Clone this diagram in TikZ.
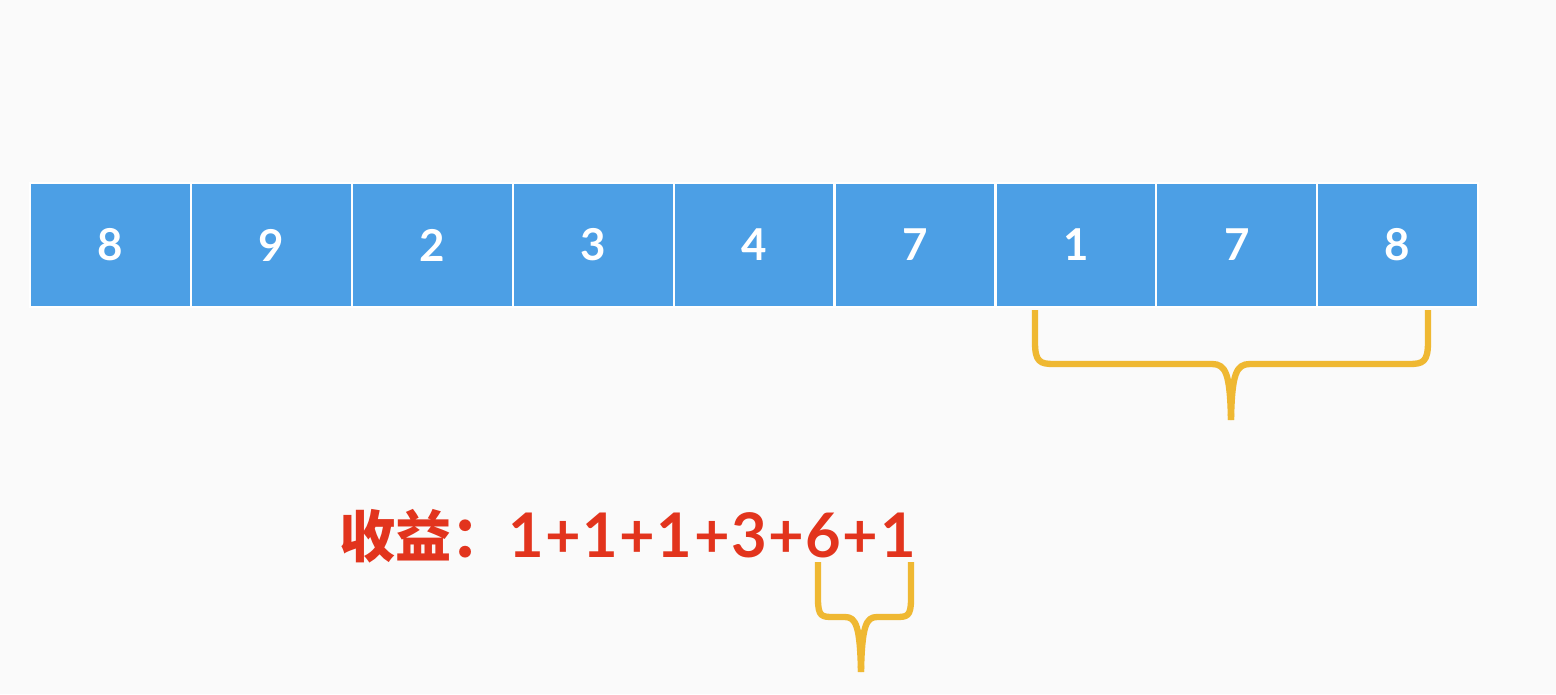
\documentclass[tikz,border=0pt]{standalone}
\usepackage{fontspec}
\setmainfont{Lato}
\newfontfamily\cjk{Noto Sans CJK SC}
\newfontfamily\gainfont[LetterSpace=2.5]{Lato}
\usetikzlibrary{positioning}
\definecolor{cellblue}{HTML}{4C9FE5}
\definecolor{bracegold}{HTML}{EFB832}
\definecolor{gainred}{HTML}{E2341D}
\definecolor{paper}{HTML}{FAFAFA}
\tikzset{cell/.style={fill=cellblue, draw=white, line width=1.2pt, text=white,
    minimum width=3.218cm, minimum height=2.48cm, inner sep=0pt, font=\bfseries\fontsize{25}{30}\selectfont}}
\tikzset{bracket/.style={draw=bracegold, line width=3.6pt, line join=round}}

\begin{document}
\begin{tikzpicture}[x=0.02cm, y=-0.02cm]
    % Background
    \fill[paper] (0,0) rectangle (1556,694);
    \useasboundingbox (0,0) rectangle (1556,694);

    % Cells
    \foreach \v [count=\i] in {8,9,2,3,4,7,1,7,8}
        \node[cell, anchor=north west] (c\i) at ({29+160.9*(\i-1)},182) {\v};

    % Gain
    \node[anchor=base west, inner sep=0pt, text=gainred] (gain) at (339,557)
        {{\cjk\bfseries\fontsize{32}{36}\selectfont 收益：}{\gainfont\bfseries\fontsize{35}{40}\selectfont 1+1+1+3+6+1}};

    % Brace under the last three cells
    \coordinate (bl) at (1035,310);
    \coordinate (br) at (1428,310);
    \coordinate (bt) at (1231,420);
    \draw[bracket] (bl) -- ++(0,32) .. controls ++(0,20) and (1040,364) .. (1054,364)
        -- (1212,364) .. controls (1226,364) and (1230,374) .. (bt);
    \draw[bracket] (br) -- ++(0,32) .. controls ++(0,20) and (1423,364) .. (1409,364)
        -- (1250,364) .. controls (1236,364) and (1232,374) .. (bt);

    % Brace under the last term
    \coordinate (sl) at (818,562);
    \coordinate (sr) at (911,562);
    \coordinate (st) at (861,672);
    \draw[bracket] (sl) -- ++(0,37) .. controls ++(0,18) and (822,617) .. (834,617)
        -- (845,617) .. controls (856,617) and (860,626) .. (st);
    \draw[bracket] (sr) -- ++(0,37) .. controls ++(0,18) and (907,617) .. (895,617)
        -- (877,617) .. controls (866,617) and (862,626) .. (st);
\end{tikzpicture}
\end{document}
